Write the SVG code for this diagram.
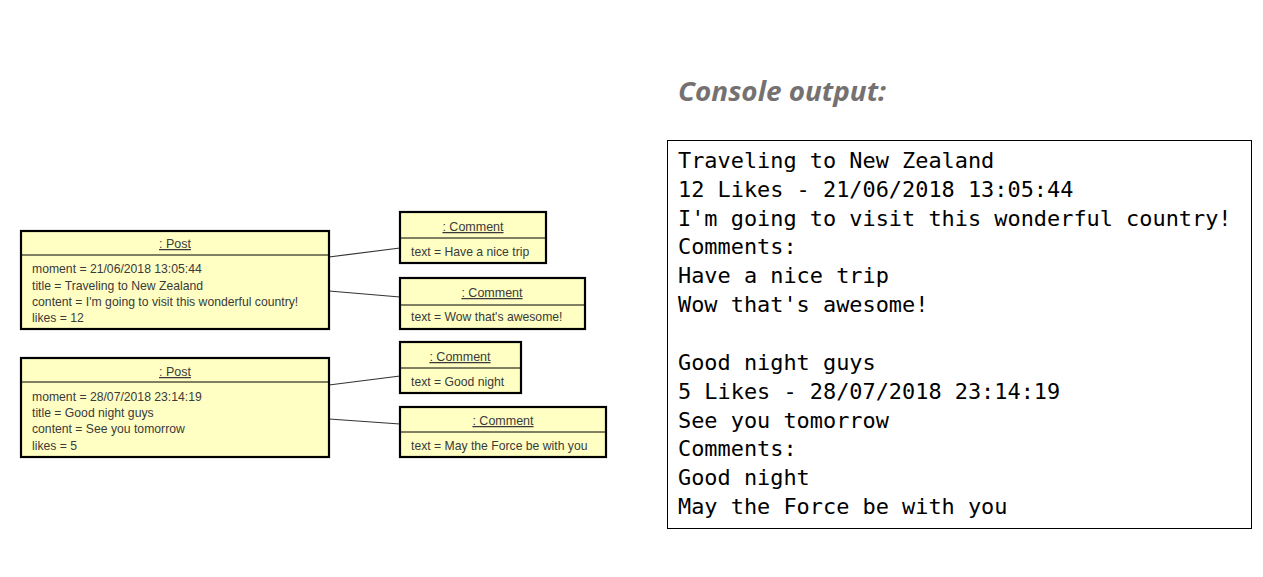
<svg xmlns="http://www.w3.org/2000/svg" width="1263" height="577" viewBox="0 0 1263 577">
<style>
.box{fill:#ffffc4;stroke:#000;stroke-width:2.2}
.div{stroke:#000;stroke-width:1}
.t{font-family:"Liberation Sans",Arial,sans-serif;font-size:12.2px;fill:#3a3a3a}
.h{font-family:"Liberation Sans",Arial,sans-serif;font-size:12.5px;fill:#3a3a3a;text-anchor:middle;text-decoration:underline}
.con{stroke:#333;stroke-width:1.2;fill:none}
.mono{font-family:"DejaVu Sans Mono","Liberation Mono",monospace;font-size:21.9px;fill:#000}
</style>
<rect width="1263" height="577" fill="#fff"/>
<g id="connectors">
<line class="con" x1="329" y1="257" x2="400" y2="248"/>
<line class="con" x1="329" y1="291" x2="400" y2="297"/>
<line class="con" x1="329" y1="385" x2="400" y2="376"/>
<line class="con" x1="329" y1="419" x2="400" y2="424"/>
</g>
<g id="post1">
<rect class="box" x="21" y="231" width="308" height="98"/>
<line class="div" x1="21" y1="255" x2="329" y2="255"/>
<text class="h" x="175" y="248">: Post</text>
<text class="t" x="32" y="273">moment = 21/06/2018 13:05:44</text>
<text class="t" x="32" y="290">title = Traveling to New Zealand</text>
<text class="t" x="32" y="306">content = I'm going to visit this wonderful country!</text>
<text class="t" x="32" y="322">likes = 12</text>
</g>
<g id="comment1">
<rect class="box" x="400" y="212" width="146" height="51"/>
<line class="div" x1="400" y1="238" x2="546" y2="238"/>
<text class="h" x="473" y="231">: Comment</text>
<text class="t" x="411" y="256">text = Have a nice trip</text>
</g>
<g id="comment2">
<rect class="box" x="400" y="278" width="185" height="51"/>
<line class="div" x1="400" y1="305" x2="585" y2="305"/>
<text class="h" x="492" y="297">: Comment</text>
<text class="t" x="411" y="321">text = Wow that's awesome!</text>
</g>
<g id="post2">
<rect class="box" x="21" y="358" width="308" height="99"/>
<line class="div" x1="21" y1="382" x2="329" y2="382"/>
<text class="h" x="175" y="376">: Post</text>
<text class="t" x="32" y="401">moment = 28/07/2018 23:14:19</text>
<text class="t" x="32" y="417">title = Good night guys</text>
<text class="t" x="32" y="433">content = See you tomorrow</text>
<text class="t" x="32" y="450">likes = 5</text>
</g>
<g id="comment3">
<rect class="box" x="400" y="342" width="121" height="51"/>
<line class="div" x1="400" y1="368" x2="521" y2="368"/>
<text class="h" x="460" y="361">: Comment</text>
<text class="t" x="411" y="386">text = Good night</text>
</g>
<g id="comment4">
<rect class="box" x="400" y="407" width="206" height="50"/>
<line class="div" x1="400" y1="432" x2="606" y2="432"/>
<text class="h" x="503" y="425">: Comment</text>
<text class="t" x="411" y="450">text = May the Force be with you</text>
</g>
<g id="console">
<text x="678" y="101" font-family="'Open Sans','Liberation Sans',sans-serif" font-size="26" font-weight="bold" font-style="italic" fill="#767171" textLength="208" lengthAdjust="spacingAndGlyphs">Console output:</text>
<rect x="667.5" y="140.5" width="584" height="388" fill="#fff" stroke="#000" stroke-width="1"/>
<text class="mono" x="678" y="168">Traveling to New Zealand</text>
<text class="mono" x="678" y="197">12 Likes - 21/06/2018 13:05:44</text>
<text class="mono" x="678" y="226">I'm going to visit this wonderful country!</text>
<text class="mono" x="678" y="254">Comments:</text>
<text class="mono" x="678" y="283">Have a nice trip</text>
<text class="mono" x="678" y="312">Wow that's awesome!</text>
<text class="mono" x="678" y="370">Good night guys</text>
<text class="mono" x="678" y="399">5 Likes - 28/07/2018 23:14:19</text>
<text class="mono" x="678" y="428">See you tomorrow</text>
<text class="mono" x="678" y="456">Comments:</text>
<text class="mono" x="678" y="485">Good night</text>
<text class="mono" x="678" y="514">May the Force be with you</text>
</g>
</svg>
